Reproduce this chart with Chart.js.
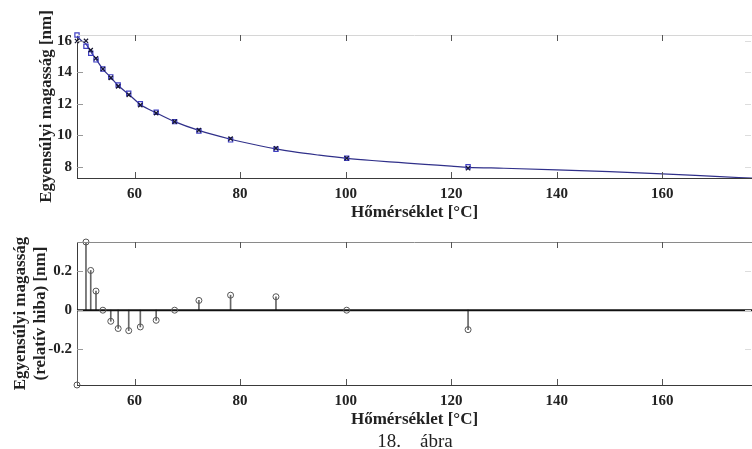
<!DOCTYPE html>
<html>
<head>
<meta charset="utf-8">
<script src="https://cdn.jsdelivr.net/npm/chart.js@4.4.1/dist/chart.umd.min.js"></script>
<style>
  html, body { margin: 0; padding: 0; background: #fff; }
  #wrap { position: relative; width: 752px; height: 449px; overflow: hidden; }
  canvas { position: absolute; left: 0; }
  #c1 { top: 0; }
  #c2 { top: 225px; }
  #caption { position: absolute; top: 430px; left: 0; width: 830px; text-align: center;
    font-family: "Liberation Serif", "Times New Roman", serif; font-size: 19px; color: #222;
    white-space: pre; line-height: 22px; }
</style>
</head>
<body>
<div id="wrap">
  <canvas id="c1" width="752" height="225"></canvas>
  <canvas id="c2" width="752" height="224"></canvas>
  <div id="caption">18.    ábra</div>
</div>
<script>
// ---- data ----
const temps    = [49.1, 50.8, 51.7, 52.7, 54.0, 55.5, 56.9, 58.9, 61.1, 64.1, 67.6, 72.2, 78.2, 86.8, 100.2, 123.2];
const squareY  = [16.36, 15.64, 15.20, 14.78, 14.20, 13.70, 13.19, 12.66, 12.00, 11.45, 10.86, 10.27, 9.70, 9.10, 8.53, 8.00];
const crossY   = [15.98, 15.99, 15.40, 14.88, 14.20, 13.64, 13.10, 12.56, 11.91, 11.40, 10.86, 10.32, 9.78, 9.17, 8.53, 7.90];
const residual = [-0.384, 0.35, 0.204, 0.098, 0.0, -0.057, -0.094, -0.105, -0.086, -0.052, 0.0, 0.05, 0.077, 0.069, 0.0, -0.1];
const curveX   = [49.1, 50.0, 50.8, 51.7, 52.7, 54.0, 55.5, 56.9, 58.9, 61.1, 64.1, 67.6, 72.2, 78.2, 80, 86.8, 90, 95, 100.2, 105, 110, 115, 120, 123.2, 130, 140, 150, 160, 170, 177];
const curveY   = [16.28, 15.98, 15.80, 15.30, 14.83, 14.20, 13.67, 13.15, 12.60, 11.95, 11.42, 10.86, 10.30, 9.74, 9.60, 9.13, 8.95, 8.73, 8.53, 8.39, 8.27, 8.15, 8.04, 7.96, 7.90, 7.80, 7.68, 7.54, 7.38, 7.27];
const xTicks   = [60, 80, 100, 120, 140, 160];
const yTicksTop = [8, 10, 12, 14, 16];
const yTicksBottom = [-0.2, 0, 0.2];
const xRange = [49.1, 177];
const yRangeTop = [7.28, 16.36];
const yRangeBottom = [-0.384, 0.35];

const FAMILY = '"Liberation Serif", "Times New Roman", serif';
const tickFont = { family: FAMILY, weight: 'bold', size: 15 };
const titleFont = { family: FAMILY, weight: 'bold', size: 17, lineHeight: 1.2 };

const innerTicks = {
  id: 'innerTicks',
  afterDatasetsDraw(chart, args, opts) {
    const { ctx, chartArea: a, scales: { x, y } } = chart;
    ctx.save();
    ctx.lineWidth = 1;
    ctx.strokeStyle = opts.topColor;
    ctx.beginPath();
    ctx.moveTo(a.left, Math.round(a.top) + 0.5);
    ctx.lineTo(a.right, Math.round(a.top) + 0.5);
    ctx.stroke();
    ctx.strokeStyle = opts.xTickColor;
    x.ticks.forEach(t => {
      const px = Math.round(x.getPixelForValue(t.value)) + 0.5;
      ctx.beginPath();
      ctx.moveTo(px, a.top); ctx.lineTo(px, a.top + 6);
      ctx.moveTo(px, a.bottom); ctx.lineTo(px, a.bottom - 6);
      ctx.stroke();
    });
    y.ticks.forEach(t => {
      const py = Math.round(y.getPixelForValue(t.value)) + 0.5;
      ctx.strokeStyle = opts.yTickColor;
      ctx.beginPath();
      ctx.moveTo(a.left, py); ctx.lineTo(a.left + 6, py);
      ctx.stroke();
      ctx.strokeStyle = opts.rightTickColor;
      ctx.beginPath();
      ctx.moveTo(a.right - 1, py); ctx.lineTo(a.right - 7, py);
      ctx.stroke();
    });
    ctx.restore();
  }
};

function xScale(height, titlePadBottom) {
  return {
    type: 'linear', min: xRange[0], max: xRange[1], offset: false,
    afterBuildTicks: s => { s.ticks = xTicks.map(v => ({ value: v })); },
    afterFit: s => { s.height = height; },
    grid: { display: false, drawTicks: false },
    border: { display: true, color: '#3a3a3a', width: 1 },
    ticks: { padding: 7, font: tickFont, color: '#222', maxRotation: 0 },
    title: { display: true, text: 'Hőmérséklet [°C]', font: titleFont, color: '#222',
      padding: { top: 0, bottom: titlePadBottom } }
  };
}

function yScale(range, ticks, titleText, titlePadTop, fmt) {
  return {
    type: 'linear', min: range[0], max: range[1],
    afterBuildTicks: s => { s.ticks = ticks.map(v => ({ value: v })); },
    afterFit: s => { s.width = 77; },
    grid: { display: false, drawTicks: false },
    border: { display: true, color: '#3a3a3a', width: 1 },
    ticks: { padding: 5, font: tickFont, color: '#222', callback: fmt },
    title: { display: true, text: titleText, font: titleFont, color: '#222',
      padding: { top: titlePadTop, bottom: 0 } }
  };
}

new Chart(document.getElementById('c1'), {
  type: 'scatter',
  data: {
    datasets: [
      { type: 'line', data: curveX.map((x, i) => ({ x, y: curveY[i] })),
        borderColor: '#30308a', borderWidth: 1.2, pointRadius: 0, fill: false,
        cubicInterpolationMode: 'monotone', order: 3 },
      { data: temps.map((x, i) => ({ x, y: squareY[i] })), pointStyle: 'rect', pointRadius: 3,
        borderColor: '#3f3fc4', backgroundColor: 'rgba(255,255,255,0)', borderWidth: 1.2, clip: false, order: 2 },
      { data: temps.map((x, i) => ({ x, y: crossY[i] })), pointStyle: 'crossRot', pointRadius: 3,
        borderColor: '#151530', borderWidth: 1.2, clip: false, order: 1 }
    ]
  },
  options: {
    responsive: false, animation: false, devicePixelRatio: 1,
    layout: { autoPadding: false, padding: { top: 35, left: 0, right: 0, bottom: 0 } },
    plugins: { legend: { display: false }, tooltip: { enabled: false },
      innerTicks: { topColor: '#d6d6d6', xTickColor: '#555', yTickColor: '#999', rightTickColor: '#ddd' } },
    scales: {
      x: xScale(47, 2),
      y: yScale(yRangeTop, yTicksTop, 'Egyensúlyi magasság [nm]', 36, v => String(v))
    }
  },
  plugins: [innerTicks]
});

new Chart(document.getElementById('c2'), {
  type: 'scatter',
  data: {
    datasets: [
      { data: temps.map((x, i) => ({ x, y: residual[i] })), pointStyle: 'circle', pointRadius: 3,
        borderColor: '#555', backgroundColor: 'rgba(255,255,255,0)', borderWidth: 1, clip: false, order: 0 },
      { type: 'line', data: [{ x: xRange[0], y: 0 }, { x: xRange[1], y: 0 }],
        borderColor: '#111', borderWidth: 2, pointRadius: 0, fill: false, order: 1 },
      { type: 'bar', data: temps.map((x, i) => ({ x, y: residual[i] })), barThickness: 1,
        backgroundColor: '#666', borderWidth: 0, order: 2 }
    ]
  },
  options: {
    responsive: false, animation: false, devicePixelRatio: 1,
    layout: { autoPadding: false, padding: { top: 17, left: 0, right: 0, bottom: 0 } },
    plugins: { legend: { display: false }, tooltip: { enabled: false },
      innerTicks: { topColor: '#8a8a8a', xTickColor: '#555', yTickColor: '#999', rightTickColor: '#ddd' } },
    scales: {
      x: xScale(64, 19),
      y: yScale(yRangeBottom, yTicksBottom, ['Egyensúlyi magasság', '(relatív hiba) [nm]'], 10,
        v => (v === 0 ? '0' : String(v)))
    }
  },
  plugins: [innerTicks]
});
</script>
</body>
</html>
